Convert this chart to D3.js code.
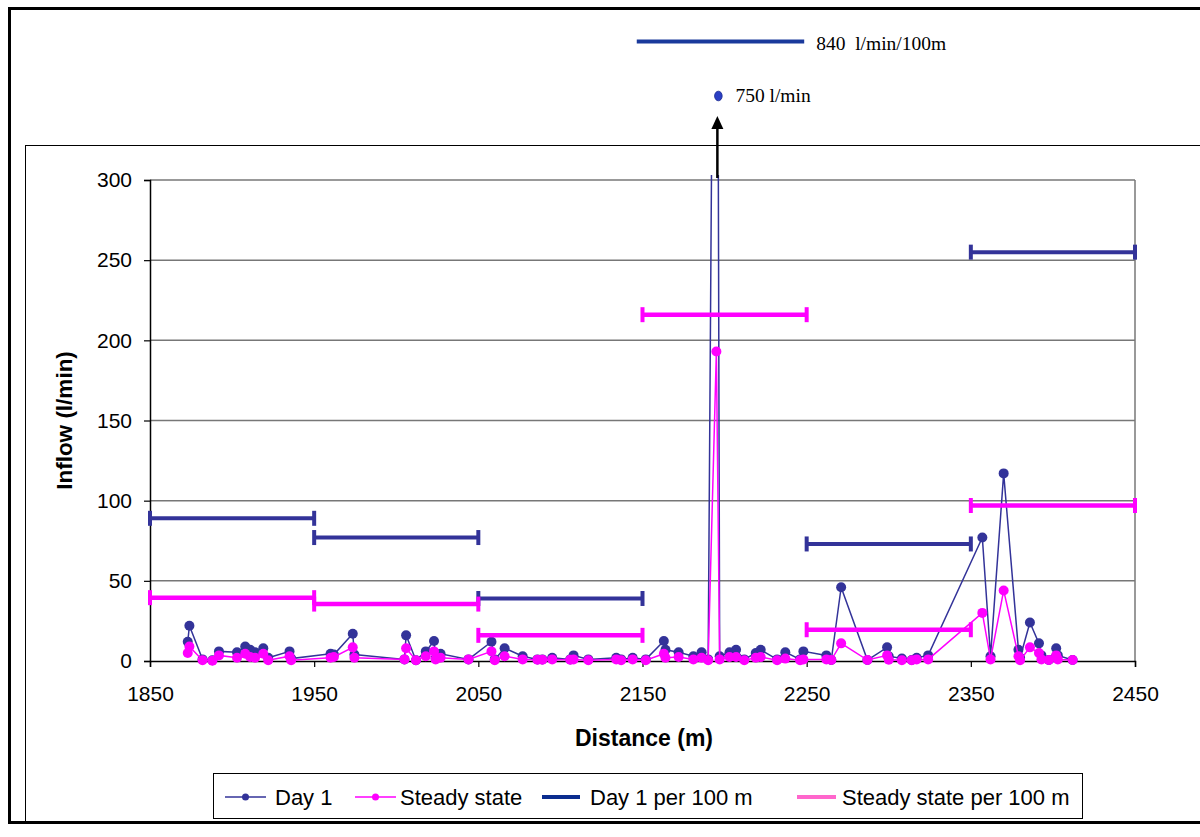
<!DOCTYPE html>
<html>
<head>
<meta charset="utf-8">
<script src="https://cdn.jsdelivr.net/npm/d3@7/dist/d3.min.js"></script>
<style>
  html, body { margin: 0; padding: 0; background: #fff; }
  svg { display: block; }
  text { font-family: "Liberation Sans", Arial, sans-serif; }
  .serif { font-family: "Liberation Serif", "Times New Roman", serif; }
</style>
</head>
<body>
<svg id="chart" width="1200" height="837"></svg>
<script>
// Measurement positions along the borehole (m)
const distance = [1873, 1874, 1882, 1888, 1892, 1903, 1908, 1911, 1914, 1919, 1922, 1935, 1936,
  1960, 1962, 1973.5, 1974.5, 2005, 2006, 2012, 2018, 2023, 2024, 2027, 2044, 2058, 2060, 2066,
  2077, 2086, 2089, 2095, 2106, 2108, 2117, 2134, 2137, 2144, 2152, 2163, 2164, 2172, 2181, 2186,
  2190, 2195, 2197, 2203, 2207, 2212, 2219, 2222, 2232, 2237, 2246, 2248, 2262, 2265, 2271, 2287,
  2299, 2300, 2308, 2314, 2317, 2324, 2357, 2362, 2370, 2379, 2380, 2386, 2391.5, 2393, 2397.5,
  2402, 2403, 2412];
// Inflow on day 1 (l/min)
const day1 = [12, 22, 1, 0.5, 6, 5.5, 9, 7, 5.5, 8, 2, 6, 1.5,
  4.5, 4, 17, 4, 1, 16, 0.5, 6, 12.5, 1.5, 4.5, 1, 12, 1, 8,
  3, 1, 1, 2, 1, 3.5, 1, 2, 1, 2, 1, 12.5, 7, 5.5, 3, 5.5,
  1, 750, 3, 5.5, 7, 1, 5, 7, 1, 5.5, 1, 6, 3.5, 0.6, 46, 0.6,
  8.5, 3, 1.5, 0.6, 2, 3.5, 77, 3, 117, 7, 2, 24, 11, 3.5, 0.6,
  8, 3.5, 0.6];
// Inflow at steady state (l/min)
const steady = [5, 9, 0.5, 0.2, 3.5, 2, 4.5, 2.5, 2, 4.5, 0.5, 3, 0.5,
  2, 2.5, 8.5, 2, 1, 8, 0.5, 3, 6, 1, 2, 1, 6, 0.5, 3,
  1, 0.8, 0.8, 1, 0.8, 1, 0.5, 1, 0.5, 1, 0.5, 4.5, 2, 2.5, 1, 2,
  0.5, 193, 1, 2.5, 2.5, 0.5, 2, 2.5, 0.5, 1.5, 0.5, 1, 1, 0.6, 11, 0.6,
  3.5, 0.8, 0.5, 0.5, 1, 1, 30, 1, 44, 3, 0.5, 8.5, 5, 1, 0.6,
  3.5, 1, 0.6];

// Inflow summed per 100 m section (l/min/100m), section centres
const sectionMid = [1900, 2000, 2100, 2200, 2300, 2400];
const sectionHalf = 50;
const day1Per100 = [89, 77, 39, 840, 73, 255];
const steadyPer100 = [39.5, 35.5, 16, 216, 19.5, 97];

// Off-scale values shown as notes above the plot
const peakDistance = 2195;
const peakLabel = "750 l/min";
const sectionLabel = "840  l/min/100m";
const sectionLabelSpan = [2146.5, 2248.5];

const xTicks = [1850, 1950, 2050, 2150, 2250, 2350, 2450];
const yTicks = [0, 50, 100, 150, 200, 250, 300];

const legendItems = ["Day 1", "Steady state", "Day 1 per 100 m", "Steady state per 100 m"];

const NAVY = "#333399", MAGENTA = "#FF00FF";

const svg = d3.select("#chart");
svg.append("rect").attr("width", 1200).attr("height", 837).attr("fill", "#fff");

// Outer frame and chart area frame
svg.append("rect").attr("x", 25.5).attr("y", 145.5).attr("width", 1200).attr("height", 760)
  .attr("fill", "none").attr("stroke", "#000").attr("stroke-width", 1);
svg.append("rect").attr("x", 9.5).attr("y", 8.5).attr("width", 1200).attr("height", 814)
  .attr("fill", "none").attr("stroke", "#000").attr("stroke-width", 3);
svg.append("rect").attr("x", 0).attr("y", 824).attr("width", 1200).attr("height", 13).attr("fill", "#fff");

const x = d3.scaleLinear().domain([1850, 2450]).range([150, 1135]);
const y = d3.scaleLinear().domain([0, 300]).range([661, 180]);

// Gridlines
svg.append("g").selectAll("line").data(yTicks.filter(d => d > 0)).join("line")
  .attr("x1", x(1850)).attr("x2", x(2450))
  .attr("y1", d => y(d)).attr("y2", d => y(d))
  .attr("stroke", "#777").attr("stroke-width", 1.5);
svg.append("line").attr("x1", x(2450)).attr("x2", x(2450)).attr("y1", y(300)).attr("y2", y(0))
  .attr("stroke", "#777").attr("stroke-width", 1.5);

// Axes
const yAxis = svg.append("g").attr("transform", `translate(${x(1850)},0)`)
  .call(d3.axisLeft(y).tickValues(yTicks).tickSize(6).tickPadding(12));
const xAxis = svg.append("g").attr("transform", `translate(0,${y(0)})`)
  .call(d3.axisBottom(x).tickValues(xTicks).tickSize(6).tickPadding(19).tickFormat(d3.format("d")));
[xAxis, yAxis].forEach(g => {
  g.select(".domain").attr("stroke", "#000").attr("stroke-width", 1.5);
  g.selectAll(".tick line").attr("stroke", "#000").attr("stroke-width", 1.2);
  g.selectAll(".tick text").attr("fill", "#000").style("font-size", "21px")
    .style("font-family", '"Liberation Sans", Arial, sans-serif');
});
xAxis.selectAll(".tick text").attr("dy", "0.71em");

// Axis titles
svg.append("text").attr("x", 644).attr("y", 746).attr("text-anchor", "middle")
  .style("font-size", "23px").style("font-weight", "bold").text("Distance (m)");
svg.append("text").attr("transform", `translate(72,${y(150)}) rotate(-90)`).attr("text-anchor", "middle")
  .style("font-size", "22.5px").style("font-weight", "bold").text("Inflow (l/min)");

// Clip for series that exceed the axis range
svg.append("clipPath").attr("id", "plotclip").append("rect")
  .attr("x", x(1850) - 10).attr("y", y(300) - 5).attr("width", x(2450) - x(1850) + 20)
  .attr("height", y(0) - y(300) + 20);

const plot = svg.append("g").attr("clip-path", "url(#plotclip)");
const pts = distance.map((d, i) => ({ d, a: day1[i], s: steady[i] }));

const lineA = d3.line().x(p => x(p.d)).y(p => y(p.a));
const lineS = d3.line().x(p => x(p.d)).y(p => y(p.s));

plot.append("path").attr("d", lineA(pts)).attr("fill", "none").attr("stroke", NAVY).attr("stroke-width", 1.5);
plot.append("g").selectAll("circle").data(pts.filter(p => p.a <= 300)).join("circle")
  .attr("cx", p => x(p.d)).attr("cy", p => y(p.a)).attr("r", 5).attr("fill", NAVY);

plot.append("path").attr("d", lineS(pts)).attr("fill", "none").attr("stroke", MAGENTA).attr("stroke-width", 1.5);
plot.append("g").selectAll("circle").data(pts).join("circle")
  .attr("cx", p => x(p.d)).attr("cy", p => y(p.s)).attr("r", 5).attr("fill", MAGENTA);

// Per-100 m sections drawn as horizontal bars with end caps
function sections(values, color, width) {
  const g = plot.append("g");
  const data = sectionMid.map((m, i) => ({ m, v: values[i] })).filter(o => o.v <= 300);
  g.selectAll("line.bar").data(data).join("line").attr("class", "bar")
    .attr("x1", o => x(o.m - sectionHalf)).attr("x2", o => x(o.m + sectionHalf))
    .attr("y1", o => y(o.v)).attr("y2", o => y(o.v))
    .attr("stroke", color).attr("stroke-width", width);
  [-1, 1].forEach(side => {
    g.selectAll(null).data(data).join("line")
      .attr("x1", o => x(o.m + side * sectionHalf)).attr("x2", o => x(o.m + side * sectionHalf))
      .attr("y1", o => y(o.v) - 7.5).attr("y2", o => y(o.v) + 7.5)
      .attr("stroke", color).attr("stroke-width", 4);
  });
}
sections(day1Per100, NAVY, 4);
sections(steadyPer100, MAGENTA, 4.5);

// Notes for the off-scale values
const ax = x(peakDistance) + 1;
svg.append("line").attr("x1", ax).attr("x2", ax).attr("y1", y(300) - 2).attr("y2", 128)
  .attr("stroke", "#000").attr("stroke-width", 2.5);
svg.append("path").attr("d", `M${ax},116 L${ax - 6},129 L${ax + 6},129 Z`).attr("fill", "#000");
svg.append("ellipse").attr("cx", ax + 1).attr("cy", 96).attr("rx", 3.8).attr("ry", 4.8)
  .attr("fill", "#2b3fc4").attr("stroke", "#1a2a90").attr("stroke-width", 0.8);
svg.append("text").attr("class", "serif").attr("x", ax + 18).attr("y", 102)
  .style("font-size", "19.5px").text(peakLabel);
svg.append("line").attr("x1", x(sectionLabelSpan[0])).attr("x2", x(sectionLabelSpan[1]))
  .attr("y1", 41.5).attr("y2", 41.5).attr("stroke", "#1a3a9c").attr("stroke-width", 4);
svg.append("text").attr("class", "serif").attr("x", x(sectionLabelSpan[1]) + 12).attr("y", 50)
  .style("font-size", "19.5px").attr("xml:space", "preserve").text(sectionLabel);

// Legend
const lg = svg.append("g");
lg.append("rect").attr("x", 213.5).attr("y", 773.5).attr("width", 869).attr("height", 45)
  .attr("fill", "#fff").attr("stroke", "#000").attr("stroke-width", 1);
const legendPos = [
  { x0: 225, x1: 266, tx: 275, color: NAVY, w: 1.5, dot: true },
  { x0: 355, x1: 396, tx: 400, color: MAGENTA, w: 1.5, dot: true },
  { x0: 542, x1: 580, tx: 590, color: "#0b2d8f", w: 4, dot: false },
  { x0: 797, x1: 836, tx: 842, color: "#ff66cc", w: 4, dot: false }
];
legendItems.forEach((name, i) => {
  const p = legendPos[i];
  lg.append("line").attr("x1", p.x0).attr("x2", p.x1).attr("y1", 797).attr("y2", 797)
    .attr("stroke", p.color).attr("stroke-width", p.w);
  if (p.dot) lg.append("circle").attr("cx", (p.x0 + p.x1) / 2).attr("cy", 797).attr("r", 3.5).attr("fill", p.color);
  lg.append("text").attr("x", p.tx).attr("y", 805).style("font-size", "22px").text(name);
});
</script>
</body>
</html>
